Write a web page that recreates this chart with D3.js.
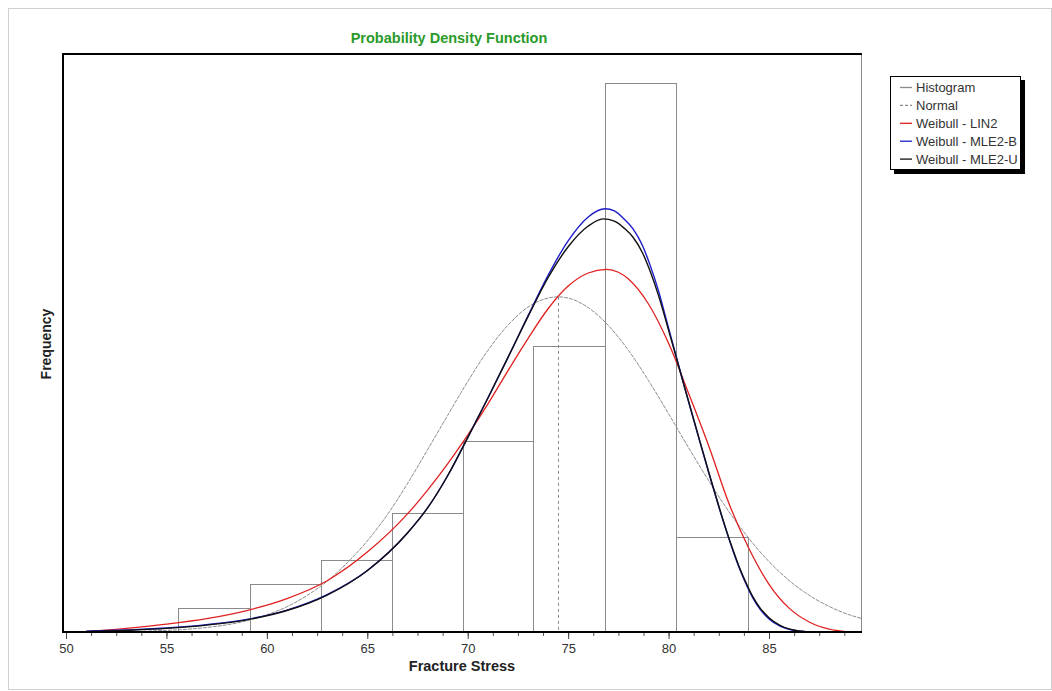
<!DOCTYPE html>
<html>
<head>
<meta charset="utf-8">
<script src="https://cdn.jsdelivr.net/npm/d3@7"></script>
<style>
  body { margin: 0; background: #fff; }
  text { font-family: "Liberation Sans", Arial, sans-serif; }
</style>
</head>
<body>
<script>
// histogram bin edges and counts
var binEdges = [55.59, 59.16, 62.70, 66.25, 69.78, 73.27, 76.83, 80.38, 83.94];
var binCounts = [1, 2, 3, 5, 8, 12, 23, 4];

// fitted curves as [stress, frequency]
var normalPts = [[49.85, 0.00], [51, 0.01], [53, 0.02], [55, 0.07], [56, 0.11], [57, 0.19], [58, 0.30],
  [59, 0.47], [60, 0.72], [61, 1.06], [62, 1.53], [63, 2.13], [64, 2.90], [65, 3.82], [66, 4.92],
  [67, 6.22], [68, 7.64], [69, 9.08], [70, 10.50], [71, 11.80], [72, 12.86], [73, 13.62], [74, 14.00],
  [74.49, 14.05], [75, 14.00], [76, 13.60], [77, 12.85], [78, 11.81], [79, 10.54], [80, 9.15],
  [81, 7.72], [82, 6.34], [83, 5.05], [84, 3.92], [85, 2.95], [86, 2.16], [87, 1.54], [88, 1.07],
  [89, 0.72], [89.6, 0.57]];
var normalMean = 74.49;

var lin2Pts = [[51.0, 0.02], [53, 0.15], [55, 0.33], [57, 0.56], [59, 0.90], [61, 1.40], [63, 2.15],
  [65, 3.35], [67, 4.95], [68, 5.95], [69, 7.05], [70, 8.25], [71, 9.55], [72, 10.95], [73, 12.30],
  [74, 13.55], [75, 14.50], [76, 15.05], [76.9, 15.20], [77.5, 15.08], [78, 14.80], [79, 13.75],
  [80, 12.10], [81, 10.00], [82, 7.80], [83, 5.40], [84, 3.50], [85, 2.00], [86, 1.00], [87, 0.42],
  [88, 0.12], [88.8, 0.02]];

var mle2bPts = [[51.0, 0.03], [53, 0.09], [55, 0.17], [57, 0.31], [59, 0.53], [61, 0.92], [63, 1.57],
  [65, 2.58], [67, 4.15], [68, 5.20], [69, 6.55], [70, 8.15], [71, 9.80], [72, 11.50], [73, 13.25],
  [74, 14.95], [75, 16.40], [76, 17.40], [76.84, 17.74], [77.3, 17.65], [77.8, 17.30], [78.23, 16.90],
  [78.7, 16.20], [79.07, 15.40], [79.5, 14.30], [79.9, 13.05], [80.4, 11.50], [80.8, 10.25],
  [81.23, 8.95], [81.65, 7.70], [82.06, 6.50], [82.5, 5.25], [82.89, 4.20], [83.2, 3.42], [83.56, 2.60],
  [83.89, 1.95], [84.2, 1.42], [84.56, 0.95], [85.0, 0.55], [85.55, 0.25], [86.0, 0.11], [86.4, 0.05],
  [87.0, 0]];

var mle2uPts = [[51.2, 0.02], [53, 0.07], [55, 0.15], [57, 0.29], [59, 0.51], [61, 0.90], [63, 1.55],
  [65, 2.57], [67, 4.15], [68, 5.20], [69, 6.55], [70, 8.15], [71, 9.80], [72, 11.50], [73, 13.22],
  [74, 14.85], [75, 16.15], [76, 17.02], [76.74, 17.32], [77.3, 17.22], [77.8, 16.92], [78.23, 16.55],
  [78.7, 15.90], [79.07, 15.15], [79.5, 14.10], [79.9, 12.95], [80.4, 11.45], [80.8, 10.25],
  [81.23, 8.97], [81.65, 7.73], [82.06, 6.53], [82.5, 5.28], [82.89, 4.23], [83.2, 3.46], [83.56, 2.64],
  [83.89, 2.00], [84.2, 1.47], [84.56, 1.00], [85.0, 0.60], [85.55, 0.28], [86.0, 0.13], [86.4, 0.06],
  [87.2, 0]];

var xTicks = [50, 55, 60, 65, 70, 75, 80, 85];
var legendNames = ["Histogram", "Normal", "Weibull - LIN2", "Weibull - MLE2-B", "Weibull - MLE2-U"];

var W = 1052, H = 691;
var pLeft = 63, pRight = 861, pTop = 54, pBottom = 632;

var svg = d3.select("body").append("svg")
    .attr("width", W)
    .attr("height", H);

// outer frame
svg.append("rect")
    .attr("x", 8.5).attr("y", 8.5)
    .attr("width", W - 9).attr("height", H - 10)
    .attr("fill", "none")
    .attr("stroke", "#d0d0d0");

var x = d3.scaleLinear().domain([49.85, 89.58]).range([pLeft, pRight]);
var y = d3.scaleLinear().domain([0, 24.23]).range([pBottom, pTop]);

svg.append("clipPath").attr("id", "plot")
  .append("rect")
    .attr("x", pLeft).attr("y", pTop)
    .attr("width", pRight - pLeft).attr("height", pBottom - pTop);

var plot = svg.append("g").attr("clip-path", "url(#plot)");

// histogram bars
var bins = binCounts.map(function(c, i) { return {x0: binEdges[i], x1: binEdges[i + 1], n: c}; });
plot.selectAll("rect.bar")
    .data(bins)
  .enter().append("rect")
    .attr("class", "bar")
    .attr("x", function(d) { return Math.round(x(d.x0)) + 0.5; })
    .attr("y", function(d) { return Math.round(y(d.n)) + 0.5; })
    .attr("width", function(d) { return Math.round(x(d.x1)) - Math.round(x(d.x0)); })
    .attr("height", function(d) { return pBottom - Math.round(y(d.n)); })
    .attr("fill", "none")
    .attr("stroke", "#8a8a8a")
    .attr("stroke-width", 1);

var line = d3.line()
    .x(function(d) { return x(d[0]); })
    .y(function(d) { return y(d[1]); })
    .curve(d3.curveMonotoneX);

// normal curve and its mean
plot.append("path")
    .attr("d", line(normalPts))
    .attr("fill", "none")
    .attr("stroke", "#8c8c8c")
    .attr("stroke-width", 1)
    .attr("stroke-dasharray", "4,1");

plot.append("line")
    .attr("x1", Math.round(x(normalMean)) + 0.5).attr("x2", Math.round(x(normalMean)) + 0.5)
    .attr("y1", y(14.05)).attr("y2", pBottom)
    .attr("stroke", "#8c8c8c")
    .attr("stroke-dasharray", "3,3");

plot.append("path")
    .attr("d", line(lin2Pts))
    .attr("fill", "none")
    .attr("stroke", "#e02020")
    .attr("stroke-width", 1.3);

plot.append("path")
    .attr("d", line(mle2bPts))
    .attr("fill", "none")
    .attr("stroke", "#1c1cc8")
    .attr("stroke-width", 1.4);

plot.append("path")
    .attr("d", line(mle2uPts))
    .attr("fill", "none")
    .attr("stroke", "#111")
    .attr("stroke-width", 1.4);

// frame of the plot
svg.append("line")
    .attr("x1", pRight + 0.5).attr("x2", pRight + 0.5)
    .attr("y1", pTop).attr("y2", pBottom)
    .attr("stroke", "#8a8a8a");
svg.append("path")
    .attr("d", "M" + pLeft + "," + pBottom + "V" + pTop + "H" + (pRight + 1))
    .attr("fill", "none")
    .attr("stroke", "#000")
    .attr("stroke-width", 2);

// x axis
var minor = d3.range(50, 89.6, 1.25);
svg.append("g")
    .attr("transform", "translate(0," + pBottom + ")")
    .call(d3.axisBottom(x).tickValues(minor).tickSize(4).tickFormat(""))
    .call(function(g) { g.select(".domain").remove(); g.selectAll("line").attr("stroke", "#555"); });

var xAxis = svg.append("g")
    .attr("transform", "translate(0," + pBottom + ")")
    .call(d3.axisBottom(x).tickValues(xTicks).tickSize(7).tickPadding(5).tickFormat(d3.format("d")));
xAxis.select(".domain").remove();
xAxis.selectAll("line").attr("stroke", "#444");
xAxis.selectAll("text")
    .attr("font-family", "Liberation Sans, Arial, sans-serif")
    .attr("font-size", 13)
    .attr("fill", "#333");

svg.append("path")
    .attr("d", "M" + (pLeft - 1) + "," + pBottom + "H" + (pRight + 1))
    .attr("stroke", "#000")
    .attr("stroke-width", 2);

// titles
svg.append("text")
    .attr("x", 449).attr("y", 43)
    .attr("text-anchor", "middle")
    .attr("font-size", 14.5)
    .attr("font-weight", "bold")
    .attr("fill", "#2a9a2a")
    .text("Probability Density Function");

svg.append("text")
    .attr("x", 462).attr("y", 671)
    .attr("text-anchor", "middle")
    .attr("font-size", 14.5)
    .attr("font-weight", "bold")
    .attr("fill", "#222")
    .text("Fracture Stress");

svg.append("text")
    .attr("transform", "translate(51,344) rotate(-90)")
    .attr("text-anchor", "middle")
    .attr("font-size", 14)
    .attr("font-weight", "bold")
    .attr("fill", "#222")
    .text("Frequency");

// legend
var lg = svg.append("g").attr("transform", "translate(890,76)");
lg.append("rect")
    .attr("x", 4).attr("y", 4).attr("width", 131).attr("height", 94)
    .attr("fill", "#000");
lg.append("rect")
    .attr("x", 0.5).attr("y", 0.5).attr("width", 130).attr("height", 93)
    .attr("fill", "#fff").attr("stroke", "#000");

var legendStyle = [
  {c: "#8a8a8a", dash: null},
  {c: "#8c8c8c", dash: "3,2"},
  {c: "#e02020", dash: null},
  {c: "#1c1cc8", dash: null},
  {c: "#111", dash: null}
];
var row = lg.selectAll("g.row")
    .data(legendNames)
  .enter().append("g")
    .attr("transform", function(d, i) { return "translate(0," + (11 + i * 17.9) + ")"; });
row.append("line")
    .attr("x1", 10).attr("x2", 22)
    .attr("y1", 0.5).attr("y2", 0.5)
    .attr("stroke", function(d, i) { return legendStyle[i].c; })
    .attr("stroke-dasharray", function(d, i) { return legendStyle[i].dash; })
    .attr("stroke-width", 1.3);
row.append("text")
    .attr("x", 26).attr("y", 5)
    .attr("font-size", 13)
    .attr("fill", "#333")
    .text(function(d) { return d; });
</script>
</body>
</html>
